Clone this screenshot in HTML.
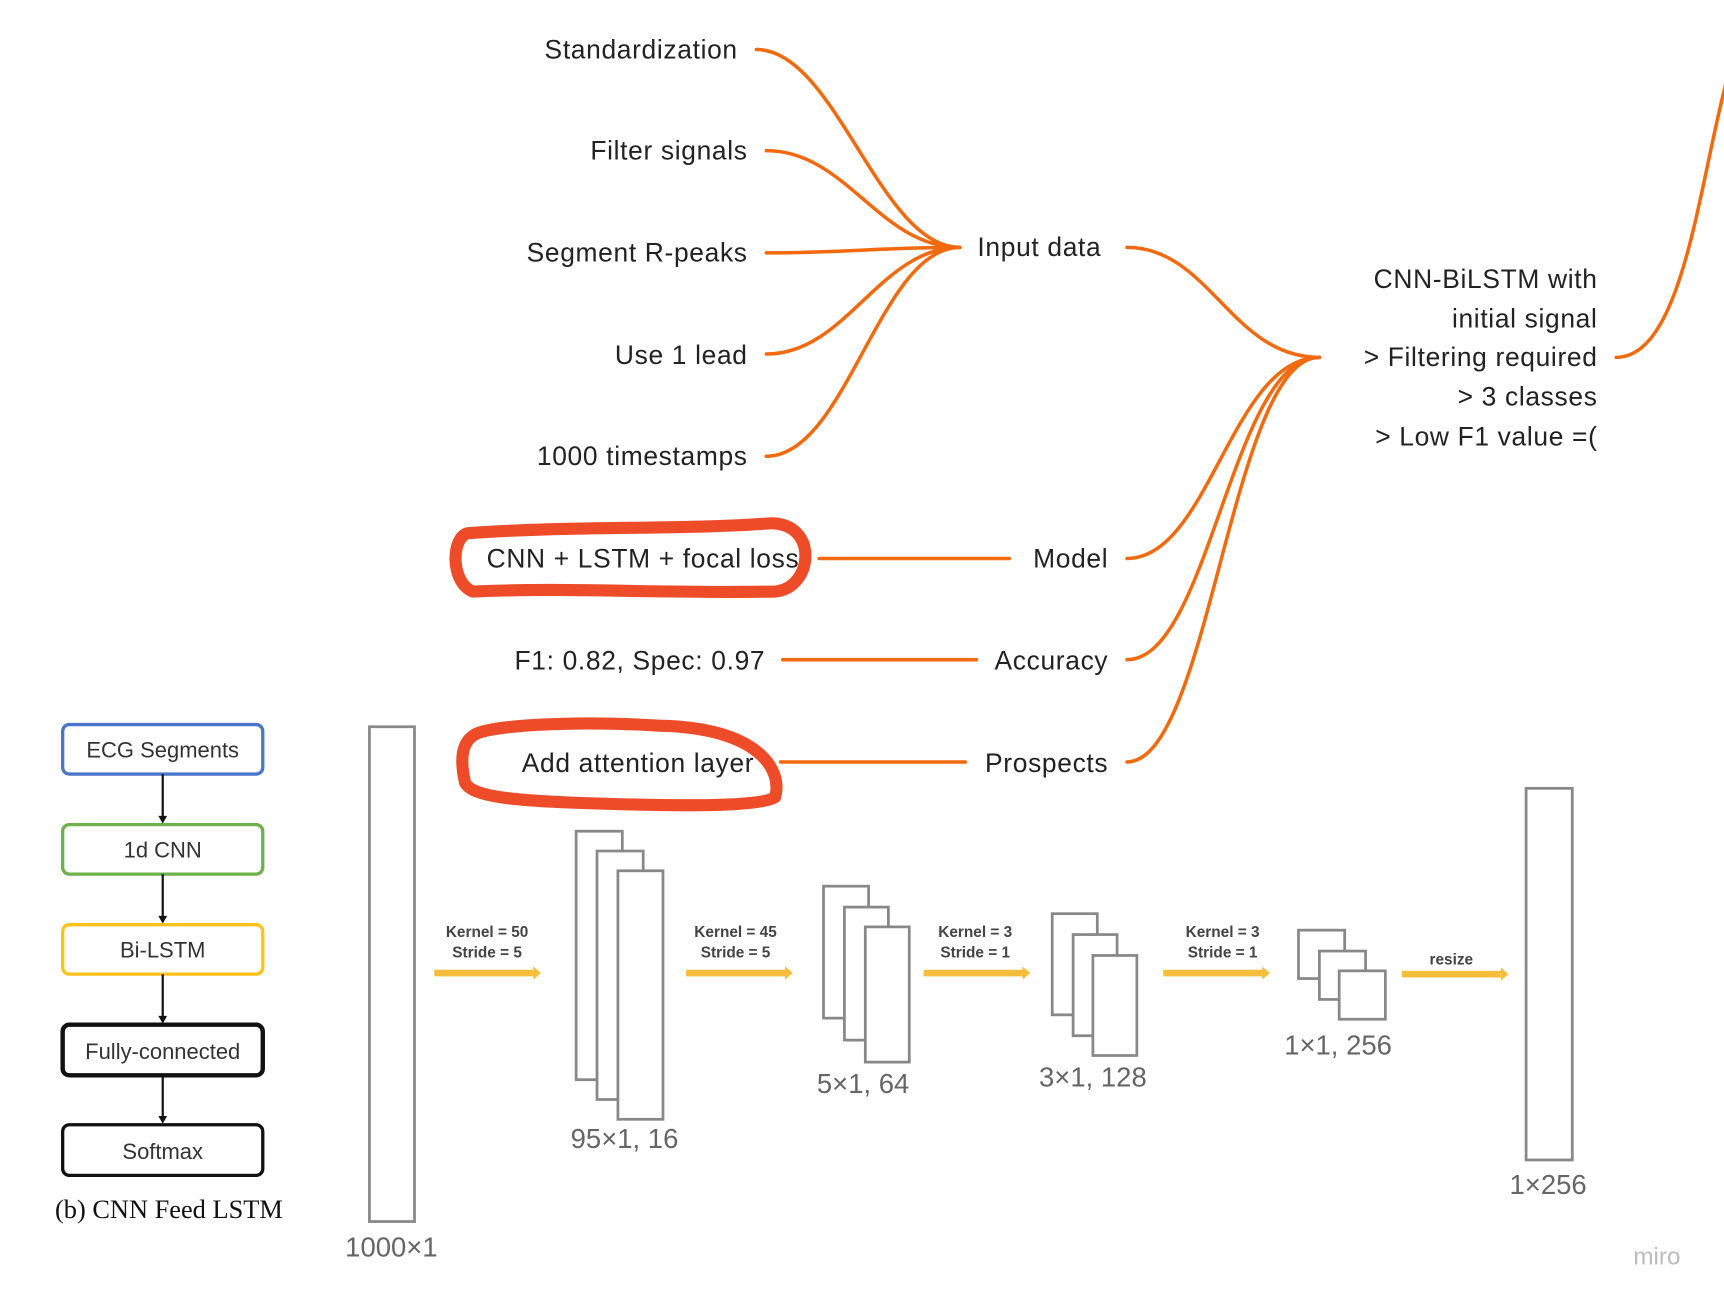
<!DOCTYPE html>
<html><head><meta charset="utf-8"><style>
html,body{margin:0;padding:0;background:#fff;}
svg{display:block;}
text{font-family:"Liberation Sans",sans-serif;}
text.serif{font-family:"Liberation Serif",serif;}
</style></head><body>
<svg width="1724" height="1304" viewBox="0 0 1568 1186" preserveAspectRatio="none" xmlns="http://www.w3.org/2000/svg">
<g fill="none" stroke="#f26a0f" stroke-width="3.2" stroke-linecap="round">
<path d="M688,45 C760,45 800,225 873,225"/>
<path d="M697,137 C770,137 800,225 873,225"/>
<path d="M697,230 C770,230 800,225 873,225"/>
<path d="M697,322 C770,322 800,225 873,225"/>
<path d="M697,415 C770,415 800,225 873,225"/>
<path d="M1025,225 C1100,225 1120,325 1200,325"/>
<path d="M1025,508 C1100,508 1120,325 1200,325"/>
<path d="M1025,600 C1100,600 1120,325 1200,325"/>
<path d="M1025,693 C1100,693 1120,325 1200,325"/>
<path d="M1470,325 C1530,325 1545,170 1570,75"/>
<path d="M745,508 L918,508"/>
<path d="M712,600 L888,600"/>
<path d="M710,693 L878,693"/>
</g>
<g fill="#222" font-size="24" letter-spacing="0.6">
<text x="671" y="53" text-anchor="end">Standardization</text>
<text x="680" y="145" text-anchor="end">Filter signals</text>
<text x="680" y="238" text-anchor="end">Segment R-peaks</text>
<text x="680" y="331" text-anchor="end">Use 1 lead</text>
<text x="680" y="423" text-anchor="end">1000 timestamps</text>
<text x="889" y="233">Input data</text>
<text x="1008" y="516" text-anchor="end">Model</text>
<text x="1008" y="609" text-anchor="end">Accuracy</text>
<text x="1008" y="702" text-anchor="end">Prospects</text>
<text x="727" y="516" text-anchor="end">CNN + LSTM + focal loss</text>
<text x="696" y="609" text-anchor="end">F1: 0.82, Spec: 0.97</text>
<text x="686" y="702" text-anchor="end">Add attention layer</text>
<text x="1453" y="262" text-anchor="end">CNN-BiLSTM with</text>
<text x="1453" y="298" text-anchor="end">initial signal</text>
<text x="1453" y="333" text-anchor="end">&gt; Filtering required</text>
<text x="1453" y="369" text-anchor="end">&gt; 3 classes</text>
<text x="1453" y="405" text-anchor="end">&gt; Low F1 value =(</text>
</g>
<g fill="none" stroke="#ee4b28" stroke-width="11" stroke-linejoin="round">
<path d="M425,485 C520,478 620,482 700,476 C745,475 740,535 705,538 C600,540 520,534 430,538 C410,530 410,490 425,485 Z"/>
<path d="M432,668 C445,660 520,655 600,660 C690,662 712,700 705,725 C690,735 600,733 520,730 C470,728 430,725 423,712 C418,690 420,675 432,668 Z"/>
</g>
<g stroke-width="3" fill="#fff">
<rect x="57" y="659" width="182" height="45" rx="6" stroke="#4a76c9"/>
<rect x="57" y="750" width="182" height="45" rx="6" stroke="#6cb14a"/>
<rect x="57" y="841" width="182" height="45" rx="6" stroke="#ffc21a"/>
<rect x="57" y="932" width="182" height="46" rx="6" stroke="#111" stroke-width="4"/>
<rect x="57" y="1023" width="182" height="46" rx="6" stroke="#111"/>
</g>
<g stroke="#111" stroke-width="2">
<line x1="148" y1="704" x2="148" y2="746"/><line x1="148" y1="795" x2="148" y2="837"/>
<line x1="148" y1="886" x2="148" y2="928"/><line x1="148" y1="978" x2="148" y2="1019"/>
</g>
<g fill="#111">
<path d="M144,742 L152,742 L148,749Z"/><path d="M144,833 L152,833 L148,840Z"/>
<path d="M144,924 L152,924 L148,931Z"/><path d="M144,1015 L152,1015 L148,1022Z"/>
</g>
<g fill="#333" font-size="20" text-anchor="middle">
<text x="148" y="689">ECG Segments</text>
<text x="148" y="780">1d CNN</text>
<text x="148" y="871">Bi-LSTM</text>
<text x="148" y="963">Fully-connected</text>
<text x="148" y="1054">Softmax</text>
</g>
<text class="serif" x="50" y="1108" font-size="24" fill="#111">(b) CNN Feed LSTM</text>
<g fill="#fff" stroke="#888" stroke-width="2.5">
<rect x="336" y="661" width="41" height="450"/>
<rect x="524" y="756" width="42" height="226"/><rect x="543" y="774" width="42" height="226"/><rect x="562" y="792" width="41" height="226"/>
<rect x="749" y="806" width="41" height="120"/><rect x="768" y="825" width="40" height="121"/><rect x="787" y="843" width="40" height="123"/>
<rect x="957" y="831" width="41" height="92"/><rect x="976" y="850" width="40" height="92"/><rect x="994" y="869" width="40" height="91"/>
<rect x="1181" y="846" width="42" height="44"/><rect x="1200" y="865" width="42" height="44"/><rect x="1218" y="883" width="42" height="44"/>
<rect x="1388" y="717" width="42" height="338"/>
</g>
<g fill="#f4bd3a">
<rect x="395" y="882" width="90" height="6"/><path d="M485,879 L492,885 L485,891Z"/>
<rect x="624" y="882" width="90" height="6"/><path d="M714,879 L721,885 L714,891Z"/>
<rect x="840" y="882" width="90" height="6"/><path d="M930,879 L937,885 L930,891Z"/>
<rect x="1058" y="882" width="90" height="6"/><path d="M1148,879 L1155,885 L1148,891Z"/>
<rect x="1275" y="883" width="90" height="6"/><path d="M1365,880 L1372,886 L1365,892Z"/>
</g>
<g fill="#444" font-size="14" font-weight="bold" text-anchor="middle">
<text x="443" y="852">Kernel = 50</text><text x="443" y="871">Stride = 5</text>
<text x="669" y="852">Kernel = 45</text><text x="669" y="871">Stride = 5</text>
<text x="887" y="852">Kernel = 3</text><text x="887" y="871">Stride = 1</text>
<text x="1112" y="852">Kernel = 3</text><text x="1112" y="871">Stride = 1</text>
<text x="1320" y="877">resize</text>
</g>
<g fill="#666" font-size="25" text-anchor="middle">
<text x="356" y="1143">1000×1</text>
<text x="568" y="1044">95×1, 16</text>
<text x="785" y="994">5×1, 64</text>
<text x="994" y="988">3×1, 128</text>
<text x="1217" y="959">1×1, 256</text>
<text x="1408" y="1086">1×256</text>
</g>
<text x="1507" y="1150" text-anchor="middle" font-size="22" fill="#bbb">miro</text>
</svg>
</body></html>
